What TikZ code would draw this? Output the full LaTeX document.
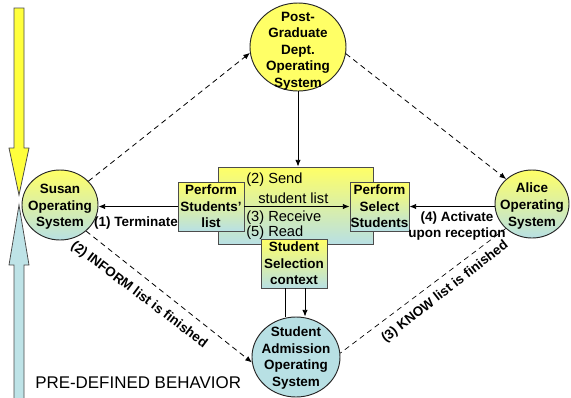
\documentclass[tikz,border=0pt]{standalone}
\usepackage{fontspec}
\setmainfont{Liberation Sans}
\usetikzlibrary{shapes.geometric,arrows.meta,calc}
\definecolor{yel}{RGB}{255,255,102}
\definecolor{lblue}{RGB}{184,224,228}
\definecolor{arryel}{RGB}{255,255,60}
\definecolor{arrblue}{RGB}{190,227,231}
\begin{document}
\begin{tikzpicture}[x=0.75pt,y=-0.75pt,
  grad/.style={top color=yel, bottom color=lblue, middle color={yel!50!lblue}},
  osys/.style={ellipse, draw=black!85, line width=0.7pt, inner sep=0pt},
  lbl/.style={font=\fontsize{10.1}{12.4}\selectfont\bfseries, align=center, inner sep=0pt},
  ctext/.style={font=\fontsize{11}{12.4}\selectfont, inner sep=0pt, anchor=west},
  boxx/.style={rectangle, draw=black!70, line width=0.7pt, grad, inner sep=0pt, align=center,
     font=\fontsize{10.1}{12.4}\selectfont\bfseries},
  bigarr/.style={draw=black!70, line width=0.6pt},
  arr/.style={-{Latex[length=5pt,width=4pt]}, line width=0.6pt},
  dsh/.style={dash pattern=on 4pt off 3pt, line width=0.5pt}]
\useasboundingbox (0,0) rectangle (571,397);
\fill[white] (0,0) rectangle (571,397);

% big behaviour arrows
\draw[bigarr, fill=arryel] (14,8) -- (24,8) -- (24,148) -- (29,148) -- (19,195) -- (9,148) -- (14,148) -- cycle;
\draw[bigarr, fill=arrblue] (14,405) -- (14,265) -- (9,265) -- (19,205) -- (29,265) -- (24,265) -- (24,405) -- cycle;

% operating systems
\node[osys, grad, minimum width=76pt*0.75, minimum height=70pt*0.75] (susan) at (60,205) {};
\node[osys, fill=yel, minimum width=96pt*0.75, minimum height=88pt*0.75] (pg) at (298,47) {};
\node[osys, grad, minimum width=74pt*0.75, minimum height=68pt*0.75] (alice) at (532,204) {};
\node[osys, fill=lblue, minimum width=88pt*0.75, minimum height=80pt*0.75] (sa) at (296,357) {};

\node[lbl] (susant) at (60,207) {Susan\\Operating\\System};
\node[lbl] (pgt) at (298,51) {Post-\\Graduate\\Dept.\\Operating\\System};
\node[lbl] (alicet) at (532,206) {Alice\\Operating\\System};
\node[lbl] (sat) at (296,358) {Student\\Admission\\Operating\\System};

% dashed connectors
\draw[dsh, arr] (susan.40) -- (pg.187);
\draw[dsh, arr] (pg.-8) -- (alice.136);
\draw[dsh, arr] (susan.-45) -- (sa.187);
\draw[dsh] (alice.223) -- (sa.5);

% central boxes
\node[rectangle, draw=black!70, line width=0.7pt, grad, minimum width=155pt*0.75, minimum height=77pt*0.75, inner sep=0pt] (big) at (295.5,205.5) {};
\node[ctext] (send) at (246,180) {(2) Send};
\node[ctext] (slist) at (258,198) {student list};
\node[ctext] (recv) at (246,218) {(3) Receive};
\node[ctext] (read) at (246,233) {(5) Read};

\node[boxx, minimum width=66pt*0.75, minimum height=49pt*0.75] (psl) at (211,206.5) {Perform\\Students'\\list};
\node[boxx, minimum width=59pt*0.75, minimum height=49pt*0.75] (pss) at (379.5,206.5) {Perform\\Select\\Students};
\node[boxx, minimum width=66pt*0.75, minimum height=49pt*0.75] (ssc) at (294,263.5) {Student\\Selection\\context};

% solid connectors
\draw[arr] (pg.south) -- (pg.south |- big.north);
\draw[arr] (psl.east) -- (pss.west);
\draw[arr] (psl.west) -- (psl.west -| susan.east);
\draw[arr] (alice.west |- pss.east) -- (pss.east);
\coordinate (l1) at ($(ssc.south)+(-9,0)$);
\coordinate (l2) at ($(ssc.south)+(11,0)$);
\draw[line width=0.6pt] (l1) -- (l1 |- sa.north);
\draw[arr] (l2) -- (l2 |- sa.north);

% labels
\node[lbl] (term) at (136,223) {(1) Terminate};
\node[lbl] (activ) at (457,226) {(4) Activate\\upon reception};
\node[lbl, rotate=-37] (inform) at (139,295) {(2) INFORM list is finished};
\node[lbl, rotate=38] (know) at (445,292) {(3) KNOW list is finished};

\node[font=\fontsize{12.7}{14}\selectfont, anchor=west, inner sep=0pt] (pre) at (35,383) {PRE-DEFINED BEHAVIOR};
\end{tikzpicture}
\end{document}
